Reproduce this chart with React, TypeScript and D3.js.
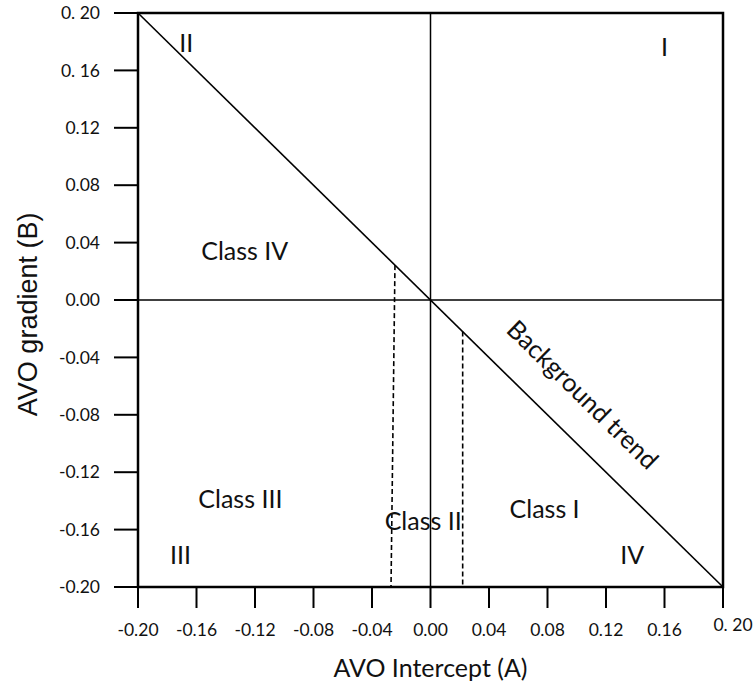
import React from 'react';
import * as d3 from 'd3';

// axis ticks (A = intercept, B = gradient)
const xTicks = [-0.2, -0.16, -0.12, -0.08, -0.04, 0, 0.04, 0.08, 0.12, 0.16, 0.2];
const xTickLabels = ['-0.20', '-0.16', '-0.12', '-0.08', '-0.04', '0.00', '0.04', '0.08', '0.12', '0.16', '0. 20'];
const yTicks = [0.2, 0.16, 0.12, 0.08, 0.04, 0, -0.04, -0.08, -0.12, -0.16, -0.2];
const yTickLabels = ['0. 20', '0. 16', '0.12', '0.08', '0.04', '0.00', '-0.04', '-0.08', '-0.12', '-0.16', '-0.20'];

// background trend B = -A
const trendA = [-0.2, 0.2];

// class boundaries (dashed), intercept at trend line and at the bottom
const cutTopA = [-0.0243, 0.022];
const cutBottomA = [-0.027, 0.022];

// region labels, in data coords
const labelText = ['II', 'I', 'Class IV', 'Class III', 'Class II', 'Class I', 'III', 'IV'];
const labelA = [-0.167, 0.16, -0.127, -0.13, -0.005, 0.078, -0.171, 0.138];
const labelB = [0.179, 0.176, 0.034, -0.139, -0.154, -0.146, -0.178, -0.178];

const trendLabel = 'Background trend';
const trendLabelA = 0.104;
const trendLabelB = -0.066;

const W = 754;
const H = 690;
const m = {left: 138, right: 31, top: 13, bottom: 103};
const font = 'Lato, "Open Sans", sans-serif';

export default function App() {
  const x = d3.scaleLinear().domain([-0.2, 0.2]).range([m.left, W - m.right]);
  const y = d3.scaleLinear().domain([-0.2, 0.2]).range([H - m.bottom, m.top]);
  const x0 = x(-0.2), x1 = x(0.2), y0 = y(-0.2), y1 = y(0.2);

  const line = d3.line<number>().x(a => x(a)).y(a => y(-a));

  // angle of the trend line on screen
  const ang = Math.atan2(y(-0.2) - y(0.2), x(0.2) - x(-0.2)) * 180 / Math.PI;
  const last = xTicks.length - 1;

  return (
    <svg width={W} height={H} style={{position: 'absolute', left: 0, top: 0, background: '#fff'}}>
      {/* zero lines */}
      <line x1={x0} x2={x1} y1={y(0)} y2={y(0)} stroke="#000" strokeWidth={1.5} />
      <line x1={x(0)} x2={x(0)} y1={y1} y2={y0} stroke="#000" strokeWidth={1.5} />

      {/* trend */}
      <path d={line(trendA) || ''} fill="none" stroke="#000" strokeWidth={1.6} />

      {/* dashed class cutoffs */}
      {cutTopA.map((a, i) => (
        <line key={'c' + i} x1={x(a)} y1={y(-a)} x2={x(cutBottomA[i])} y2={y0}
          stroke="#000" strokeWidth={1.6} strokeDasharray="5,3" />
      ))}

      {/* frame */}
      <rect x={x0} y={y1} width={x1 - x0} height={y0 - y1} fill="none" stroke="#000" strokeWidth={2.5} />

      {/* y ticks */}
      {yTicks.map((b, i) => (
        <g key={'y' + i}>
          <line x1={x0 - 24} x2={x0} y1={y(b)} y2={y(b)} stroke="#000" strokeWidth={2} />
          <text x={x0 - 38} y={y(b)} dy="0.35em" textAnchor="end" fontFamily={font} fontSize={17.5} fill="#111">
            {yTickLabels[i]}
          </text>
        </g>
      ))}

      {/* x ticks */}
      {xTicks.map((a, i) => (
        <g key={'x' + i}>
          <line x1={x(a)} x2={x(a)} y1={y0} y2={y0 + 21} stroke="#000" strokeWidth={2} />
          <text x={x(a) + (i === last ? 10 : 0)} y={y0 + 43 - (i === last ? 5 : 0)} dy="0.35em" textAnchor="middle"
            fontFamily={font} fontSize={17.5} fill="#111">
            {xTickLabels[i]}
          </text>
        </g>
      ))}

      {/* region labels */}
      {labelText.map((t, i) => (
        <text key={'l' + i} x={x(labelA[i])} y={y(labelB[i])} dy="0.35em" textAnchor="middle"
          fontFamily={font} fontSize={25} fill="#111">
          {t}
        </text>
      ))}

      <text transform={`translate(${x(trendLabelA)},${y(trendLabelB)}) rotate(${ang})`} dy="0.35em"
        textAnchor="middle" fontFamily={font} fontSize={25.5} fill="#111">
        {trendLabel}
      </text>

      {/* axis titles */}
      <text x={(x0 + x1) / 2} y={668} dy="0.35em" textAnchor="middle" fontFamily={font} fontSize={25} fill="#111">
        AVO Intercept (A)
      </text>
      <text transform={`translate(28,${y(-0.01)}) rotate(-90)`} dy="0.35em" textAnchor="middle"
        fontFamily='"Liberation Sans", Arial, sans-serif' fontSize={27} fill="#111">
        AVO gradient (B)
      </text>
    </svg>
  );
}
